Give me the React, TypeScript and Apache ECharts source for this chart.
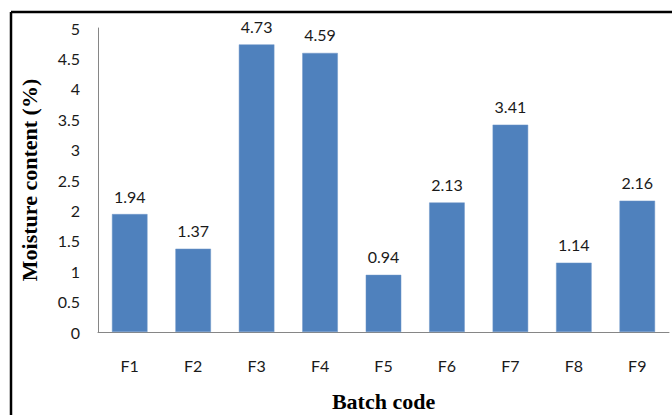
import React, { useEffect, useRef } from "react";
import * as echarts from "echarts";

const categories = ["F1", "F2", "F3", "F4", "F5", "F6", "F7", "F8", "F9"];
const moisture = [1.94, 1.37, 4.73, 4.59, 0.94, 2.13, 3.41, 1.14, 2.16];

export default function App() {
  const ref = useRef<HTMLDivElement>(null);
  useEffect(() => {
    if (!ref.current) return;
    const chart = echarts.init(ref.current, undefined, { renderer: "svg" });
    chart.setOption({
      animation: false,
      backgroundColor: "#ffffff",
      grid: { left: 98, right: 3, top: 28, bottom: 83, containLabel: false, outerBoundsMode: "none" },
      xAxis: {
        type: "category",
        data: categories,
        axisLine: { lineStyle: { color: "#868686", width: 1 } },
        axisTick: { show: false },
        axisLabel: { color: "#1a1a1a", fontFamily: "Lato", fontSize: 16, margin: 25 },
        name: "Batch code",
        nameLocation: "middle",
        nameGap: 58,
        nameTextStyle: { fontFamily: "Liberation Serif", fontWeight: "bold", fontSize: 22, color: "#000" },
      },
      yAxis: {
        type: "value",
        min: 0,
        max: 5,
        interval: 0.5,
        splitLine: { show: false },
        axisLine: { show: true, lineStyle: { color: "#868686", width: 1 } },
        axisTick: { show: false },
        axisLabel: { color: "#1a1a1a", fontFamily: "Lato", fontSize: 16, margin: 18 },
        name: "Moisture content (%)",
        nameLocation: "middle",
        nameGap: 58,
        nameTextStyle: { fontFamily: "Liberation Serif", fontWeight: "bold", fontSize: 22, color: "#000" },
      },
      series: [
        {
          type: "bar",
          data: moisture,
          barWidth: "56%",
          itemStyle: { color: "#4F81BD", borderColor: "#6f96c8", borderWidth: 0.5 },
          label: {
            show: true,
            position: "top",
            distance: 10,
            color: "#1a1a1a",
            fontFamily: "Lato",
            fontSize: 16,
            formatter: (p: any) => p.value.toFixed(2),
          },
        },
      ],
      graphic: [
        { type: "line", shape: { x1: 11, y1: 12, x2: 672, y2: 12 }, style: { stroke: "#000", lineWidth: 2.5 } },
        { type: "line", shape: { x1: 11, y1: 12, x2: 11, y2: 415 }, style: { stroke: "#000", lineWidth: 2.5 } },
      ],
    });
    return () => chart.dispose();
  }, []);
  return (
    <div
      ref={ref}
      style={{ position: "fixed", left: 0, top: 0, width: 672, height: 415 }}
    />
  );
}
